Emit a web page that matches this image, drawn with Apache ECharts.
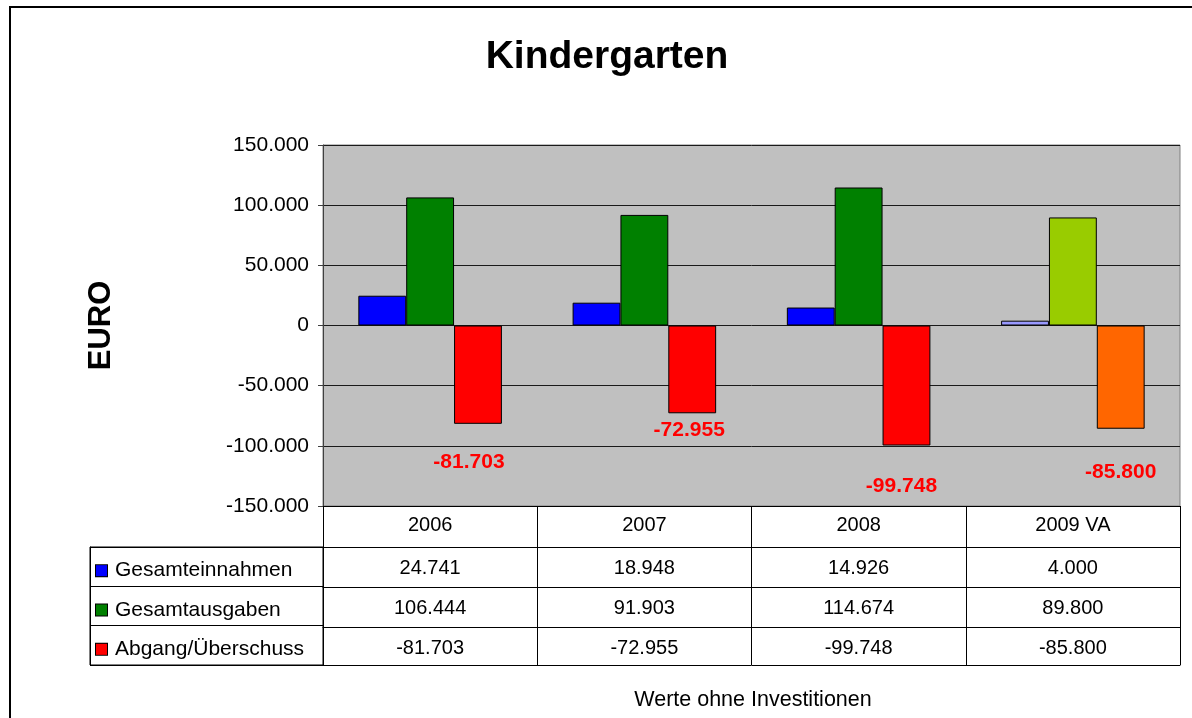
<!DOCTYPE html>
<html>
<head>
<meta charset="utf-8">
<script src="https://cdn.jsdelivr.net/npm/echarts@6/dist/echarts.min.js"></script>
<style>
html,body{margin:0;padding:0;background:#fff;}
#c{width:1192px;height:718px;}
</style>
</head>
<body>
<div id="c"></div>
<script>
// ---- data ----
var categories = ['2006', '2007', '2008', '2009 VA'];
var seriesNames = ['Gesamteinnahmen', 'Gesamtausgaben', 'Abgang/Überschuss'];
var einnahmen = [24741, 18948, 14926, 4000];
var ausgaben = [106444, 91903, 114674, 89800];
var abgang = [-81703, -72955, -99748, -85800];
var yTicks = [-150000, -100000, -50000, 0, 50000, 100000, 150000];

// ---- styles ----
var FONT = "'Liberation Sans', Arial, sans-serif";
var baseColors = ['#0000FF', '#008000', '#FF0000'];
var lastColors = ['#9999FF', '#99CC00', '#FF6600']; // 2009 VA (Voranschlag)
var labelOffsets = [[-9, 23], [-3, 1], [-5, 25], [0, 28]];

function fmt(v) {
  var neg = v < 0;
  var s = String(Math.abs(Math.round(v))).replace(/\B(?=(\d{3})+(?!\d))/g, '.');
  return (neg ? '-' : '') + s;
}

var allValues = [einnahmen, ausgaben, abgang];

function buildData(vals, si) {
  return vals.map(function (v, i) {
    var item = { value: v };
    if (i === vals.length - 1) item.itemStyle = { color: lastColors[si] };
    if (si === 2) item.label = { offset: labelOffsets[i] };
    return item;
  });
}

var series = seriesNames.map(function (name, si) {
  return {
    name: name,
    type: 'bar',
    xAxisIndex: 0,
    yAxisIndex: 0,
    barGap: '0%',
    barCategoryGap: '33%',
    itemStyle: { color: baseColors[si], borderColor: '#000', borderWidth: 1 },
    label: si === 2 ? {
      show: true,
      position: 'bottom',
      distance: 5,
      formatter: function (p) { return fmt(p.value); },
      color: '#FF0000',
      fontFamily: FONT,
      fontWeight: 'bold',
      fontSize: 21
    } : { show: false },
    data: buildData(allValues[si], si),
    animation: false
  };
});

// table rows as additional x axes below the plot
var rowH = [41, 40, 40, 38];
var xAxes = [];
var offsets = [0, 41, 81, 121, 159];
var rowData = [categories].concat(allValues.map(function (a) { return a.map(fmt); }));
for (var r = 0; r < 5; r++) {
  xAxes.push({
    type: 'category',
    gridIndex: 0,
    position: 'bottom',
    offset: offsets[r],
    data: r < 4 ? rowData[r] : categories,
    boundaryGap: true,
    axisLine: { show: true, onZero: false, lineStyle: { color: '#000', width: 1 } },
    axisTick: { show: r < 4, length: r < 4 ? rowH[r] : 0, lineStyle: { color: '#000', width: 1 } },
    axisLabel: {
      show: r < 4,
      margin: r === 0 ? 9 : 11,
      color: '#000',
      fontFamily: FONT,
      fontSize: 20
    },
    splitLine: { show: false }
  });
}
// x axis for legend-column grid
xAxes.push({ type: 'value', gridIndex: 1, show: false, min: 0, max: 1 });

var richStyles = { t: { fontFamily: FONT, fontSize: 21, color: '#000', padding: [0, 0, 0, 8] } };
seriesNames.forEach(function (n, i) {
  richStyles['b' + i] = { width: 11, height: 11, backgroundColor: baseColors[i], borderColor: '#000', borderWidth: 1 };
});

var option = {
  animation: false,
  backgroundColor: '#fff',
  title: [
    {
      text: 'Kindergarten',
      left: 602, top: 33, textAlign: 'center',
      textStyle: { fontFamily: FONT, fontWeight: 'bold', fontSize: 39, color: '#000' }
    },
    {
      text: 'Werte ohne Investitionen',
      left: 748, top: 684, textAlign: 'center',
      textStyle: { fontFamily: FONT, fontWeight: 'normal', fontSize: 21.5, color: '#000' }
    }
  ],
  grid: [
    {
      left: 323, right: 12, top: 145, bottom: 212,
      show: true, backgroundColor: '#C0C0C0', borderColor: '#808080', borderWidth: 1,
      containLabel: false
    },
    {
      left: 90, width: 233, top: 547, height: 118,
      show: true, backgroundColor: 'transparent', borderColor: '#000', borderWidth: 1,
      containLabel: false
    }
  ],
  xAxis: xAxes,
  yAxis: [
    {
      type: 'value',
      gridIndex: 0,
      min: yTicks[0],
      max: yTicks[yTicks.length - 1],
      interval: 50000,
      name: 'EURO',
      nameLocation: 'middle',
      nameRotate: 90,
      nameGap: 206,
      nameTextStyle: { fontFamily: FONT, fontWeight: 'bold', fontSize: 31, color: '#000' },
      axisLine: { show: true, lineStyle: { color: '#404040', width: 1 } },
      axisTick: { show: true, inside: false, length: 5, lineStyle: { color: '#404040' } },
      axisLabel: {
        margin: 14,
        color: '#000',
        fontFamily: FONT,
        fontSize: 21,
        formatter: function (v) { return fmt(v); }
      },
      splitLine: { show: true, lineStyle: { color: '#1a1a1a', width: 1 } }
    },
    {
      type: 'category',
      gridIndex: 1,
      inverse: true,
      data: seriesNames,
      boundaryGap: true,
      axisLine: { show: true, onZero: false, lineStyle: { color: '#000' } },
      axisTick: { show: false },
      splitLine: { show: true, lineStyle: { color: '#000', width: 1 } },
      axisLabel: {
        inside: true,
        margin: 6,
        padding: [8, 0, 0, 0],
        formatter: function (v, i) { return '{b' + i + '|}{t|' + v + '}'; },
        rich: richStyles
      }
    }
  ],
  graphic: [
    {
      type: 'rect',
      silent: true,
      z: 100,
      shape: { x: 10, y: 7, width: 1300, height: 1000 },
      style: { fill: 'none', stroke: '#000', lineWidth: 2 }
    }
  ],
  series: series
};

var chart = echarts.init(document.getElementById('c'), null, { renderer: 'canvas' });
chart.setOption(option);
</script>
</body>
</html>
